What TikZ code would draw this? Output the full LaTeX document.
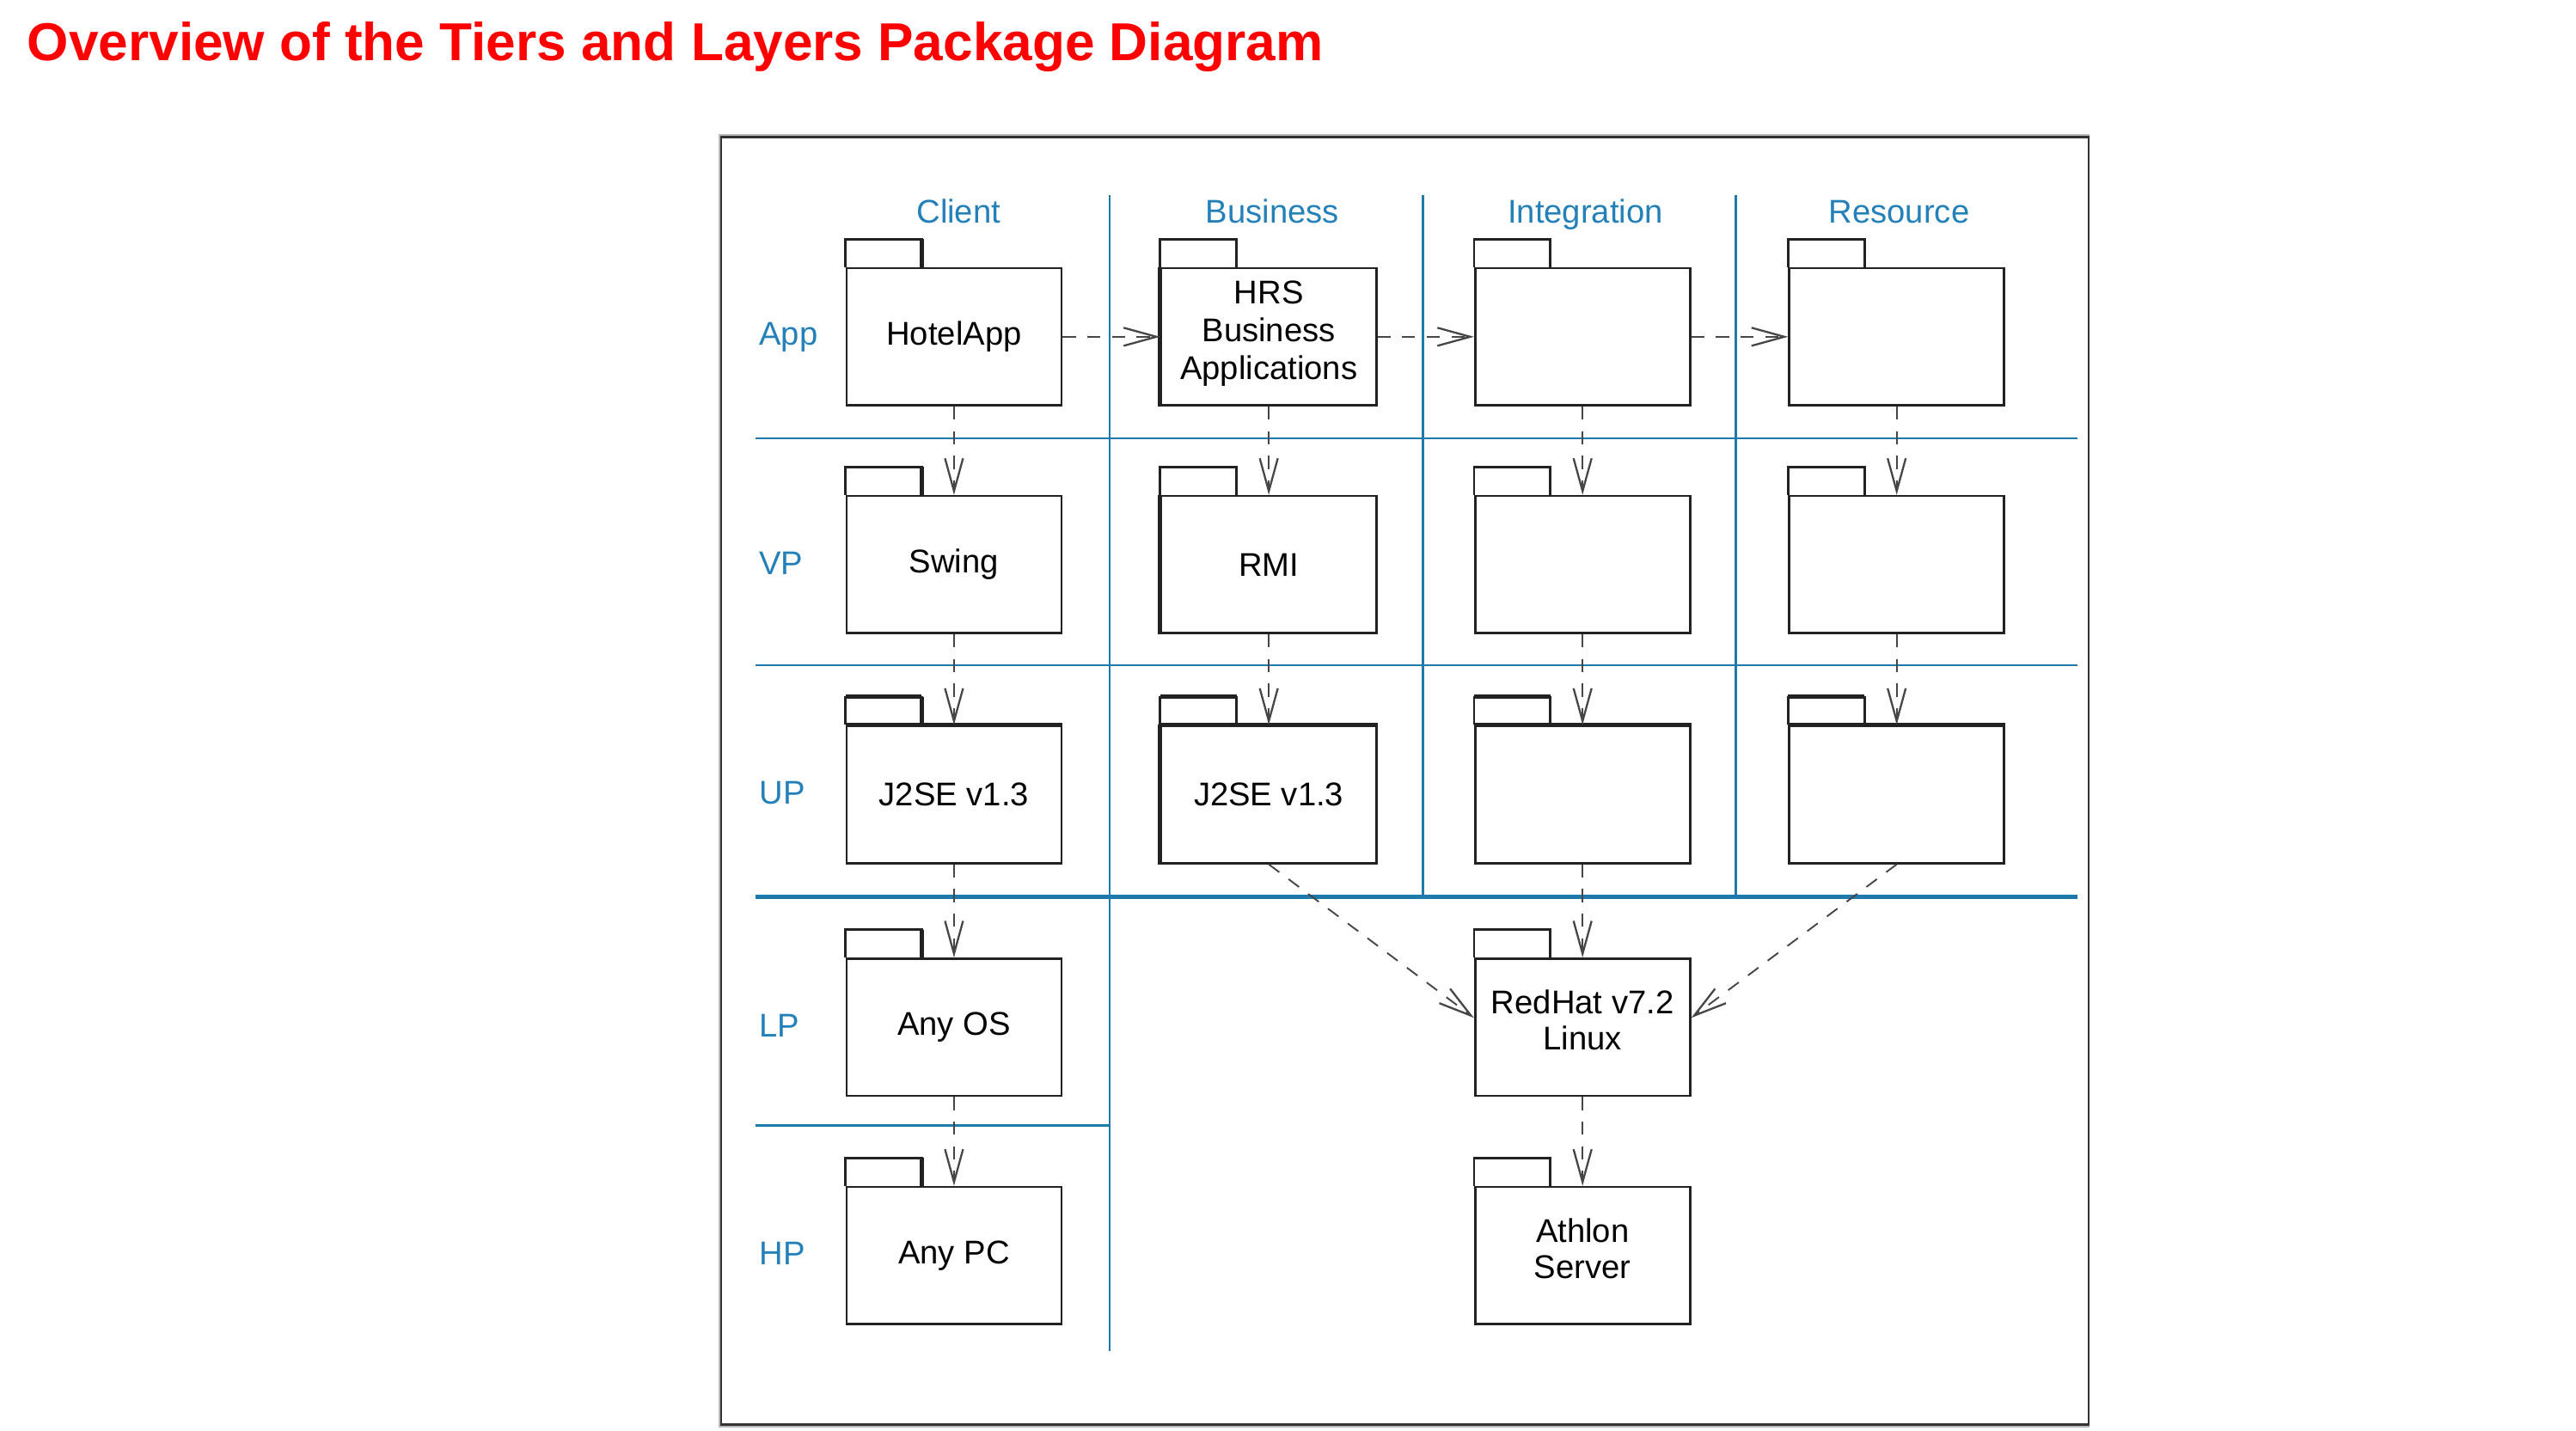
\documentclass[tikz,border=0pt]{standalone}
\usepackage{fontspec}
\setmainfont{Liberation Sans}
\usetikzlibrary{arrows.meta}
\definecolor{gridblue}{RGB}{30,122,170}
\definecolor{lblblue}{RGB}{35,128,185}
\definecolor{titlered}{RGB}{255,0,0}
\definecolor{boxline}{RGB}{34,34,34}
\definecolor{framedark}{RGB}{51,51,51}
\definecolor{framegray}{RGB}{185,185,185}
\definecolor{depgray}{RGB}{70,70,70}
\newcommand\pkglines[3]{\renewcommand\arraystretch{#2}\raisebox{#1}[\height][\depth]{\begin{tabular}{@{}c@{}}#3\end{tabular}}}
\begin{document}
\begin{tikzpicture}[x=1pt,y=-1pt,
  pkg/.style={draw=boxline, line width=1.4pt, minimum width=130.8pt, minimum height=83.5pt,
    inner sep=0pt, align=center, font=\fontsize{20}{23}\selectfont},
  tabline/.style={draw=boxline, line width=1.4pt},
  thickedge/.style={draw=boxline, line width=2.6pt},
  gridline/.style={draw=gridblue, line width=1.4pt},
  gridthick/.style={draw=gridblue, line width=2.5pt},
  collbl/.style={anchor=base, inner sep=0pt, text=lblblue, font=\fontsize{20}{23}\selectfont},
  rowlbl/.style={anchor=base west, inner sep=0pt, text=lblblue, font=\fontsize{20}{23}\selectfont},
  dep/.style={draw=depgray, line width=1pt, dash pattern=on 8pt off 7pt,
    -{Straight Barb[length=20pt, width=11pt, line width=1.2pt]}}
]
\useasboundingbox (0,0) rectangle (1568,871);

% title
\node[anchor=base west, inner sep=0pt, text=titlered,
  font=\bfseries\fontsize{32.5}{39}\selectfont] (title) at (16.5,37)
  {Overview of the Tiers and Layers Package Diagram};

% frame
\draw[framegray, line width=1.2pt] (438.2,82.2) rectangle (1271.3,868.4);
\draw[framedark, line width=1.4pt] (439,83.4) rectangle (1271.3,867.2);

% grid lines
\draw[gridline] (675.5,118.9) -- (675.5,822.3);
\draw[gridline] (866,118.9) -- (866,546);
\draw[gridline] (1056.5,118.9) -- (1056.5,546);
\draw[gridline] (460,266.8) -- (1264.4,266.8);
\draw[gridline] (460,405) -- (1264.4,405);
\draw[gridthick] (460,546) -- (1264.4,546);
\draw[gridline] (460,685) -- (675.5,685);

% column headings
\node[collbl] (hClient) at (583.5,135.5) {Client};
\node[collbl] (hBusiness) at (774.5,135.5) {Business};
\node[collbl] (hIntegration) at (965,135.5) {Integration};
\node[collbl] (hResource) at (1156,135.5) {Resource};

% row headings
\node[rowlbl] (lApp) at (462,210.2) {App};
\node[rowlbl] (lVP) at (462,349.6) {VP};
\node[rowlbl] (lUP) at (462,489.6) {UP};
\node[rowlbl] (lLP) at (462,631) {LP};
\node[rowlbl] (lHP) at (462,770) {HP};

% packages
\node[pkg] (cA) at (580.7,205) {HotelApp};
\node[pkg] (bA) at (772.3,205) {\pkglines{1.5pt}{1}{HRS\\Business\\Applications}};
\node[pkg] (iA) at (963.3,205) {};
\node[pkg] (rA) at (1154.5,205) {};

\node[pkg] (cV) at (580.7,343.7) {Swing};
\node[pkg] (bV) at (772.3,343.7) {RMI};
\node[pkg] (iV) at (963.3,343.7) {};
\node[pkg] (rV) at (1154.5,343.7) {};

\node[pkg] (cU) at (580.7,483.7) {J2SE v1.3};
\node[pkg] (bU) at (772.3,483.7) {J2SE v1.3};
\node[pkg] (iU) at (963.3,483.7) {};
\node[pkg] (rU) at (1154.5,483.7) {};

\node[pkg] (cL) at (580.7,625.3) {Any OS};
\node[pkg] (iL) at (963.3,625.3) {\pkglines{1.5pt}{0.9565}{RedHat v7.2\\Linux}};

\node[pkg] (cH) at (580.7,764.3) {Any PC};
\node[pkg] (iH) at (963.3,764.3) {\pkglines{1.5pt}{0.9565}{Athlon\\Server}};

% tabs
\foreach \n in {cA,bA,iA,rA,cV,bV,iV,rV,cU,bU,iU,rU,cL,iL,cH,iH}
  \draw[tabline] (\n.north west) -- ++(0,-17) -- ++(46.5,0) -- ++(0,17);

% heavier edges as in the original print
\foreach \n in {cU,bU,iU,rU}
  \draw[thickedge] (\n.north west) -- (\n.north east)
    ([yshift=17pt]\n.north west) -- ++(46.5,0);
\foreach \n in {bA,bV,bU}
  \draw[thickedge] (\n.north west) -- (\n.south west);
\foreach \n in {cA,cV,cU,cL,cH}
  \draw[thickedge] ([xshift=46.5pt]\n.north west) -- ++(0,-17);

% dependencies
\draw[dep] (cA.east) -- (bA.west);
\draw[dep] (bA.east) -- (iA.west);
\draw[dep] (iA.east) -- (rA.west);

\draw[dep] (cA.south) -- (cV.north);
\draw[dep] (bA.south) -- (bV.north);
\draw[dep] (iA.south) -- (iV.north);
\draw[dep] (rA.south) -- (rV.north);

\draw[dep] (cV.south) -- (cU.north);
\draw[dep] (bV.south) -- (bU.north);
\draw[dep] (iV.south) -- (iU.north);
\draw[dep] (rV.south) -- (rU.north);

\draw[dep] (cU.south) -- (cL.north);
\draw[dep] (cL.south) -- (cH.north);
\draw[dep] (iU.south) -- (iL.north);
\draw[dep] (iL.south) -- (iH.north);

\draw[dep] (bU.south) -- ([yshift=5.7pt]iL.west);
\draw[dep] (rU.south) -- ([yshift=5.7pt]iL.east);
\end{tikzpicture}
\end{document}
